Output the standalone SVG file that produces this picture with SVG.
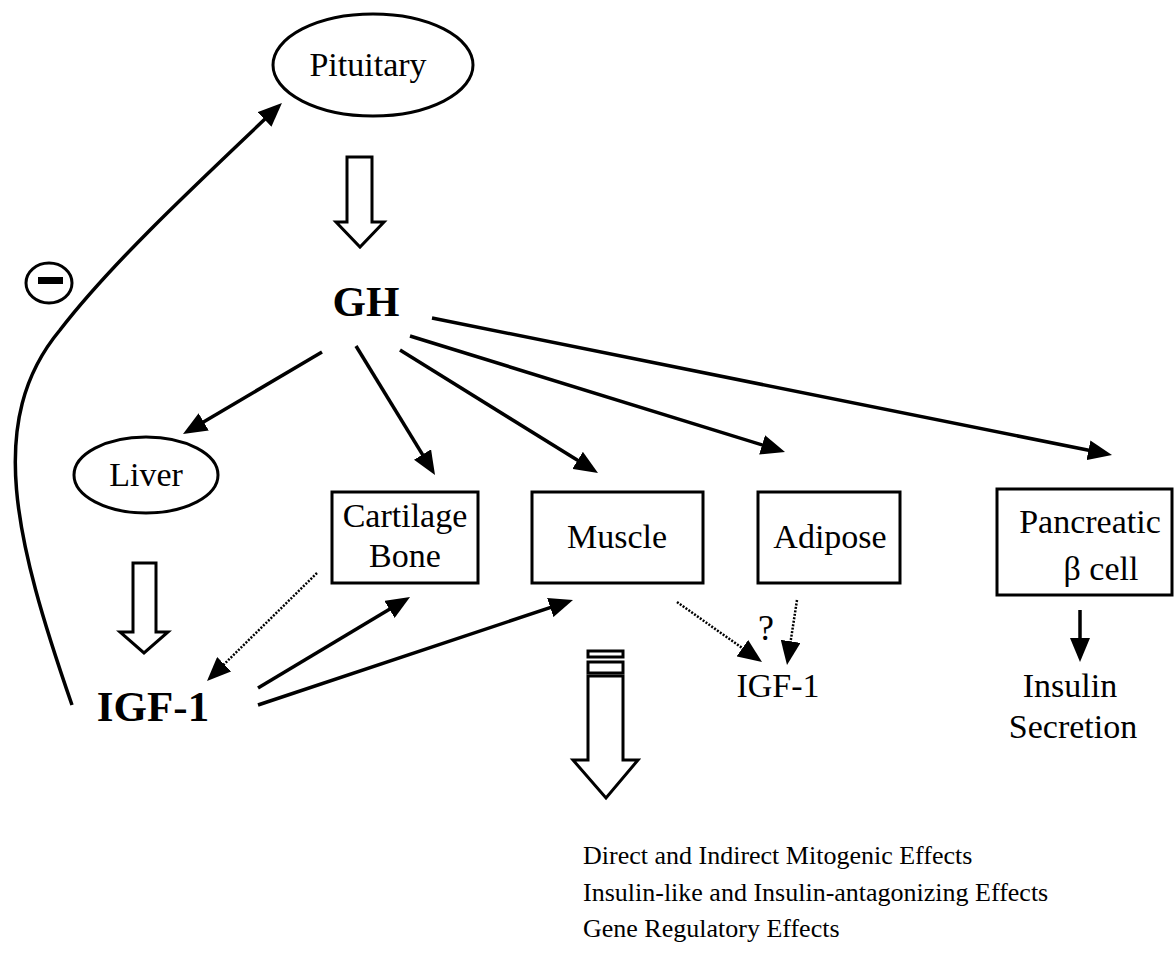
<svg xmlns="http://www.w3.org/2000/svg" width="1175" height="973" viewBox="0 0 1175 973">
<style>
.lbl{font-family:"Liberation Serif","Times New Roman",serif;font-size:34px;fill:#000;text-anchor:middle}
.big{font-family:"Liberation Serif","Times New Roman",serif;font-size:43px;font-weight:bold;fill:#000;text-anchor:middle}
.eff{font-family:"Liberation Serif","Times New Roman",serif;font-size:26px;fill:#000}
.shape{fill:#fff;stroke:#000;stroke-width:3}
.hollow{fill:#fff;stroke:#000;stroke-width:3;stroke-linejoin:miter}
.arr{fill:none;stroke:#000;stroke-width:3.5;marker-end:url(#ah)}
.dot{fill:none;stroke:#000;stroke-width:2.5;stroke-dasharray:2 1.5;marker-end:url(#ah)}
</style>
<defs>
<marker id="ah" viewBox="0 0 12 10" refX="9" refY="5" markerWidth="24" markerHeight="20" markerUnits="userSpaceOnUse" orient="auto">
<path d="M0,0 L12,5 L0,10 z" fill="#000"/>
</marker>
</defs>
<rect width="1175" height="973" fill="#fff"/>

<g id="pituitary">
<ellipse class="shape" cx="373" cy="65" rx="100" ry="51"/>
<text class="lbl" x="368" y="76">Pituitary</text>
</g>
<g id="gh"><text class="big" x="366" y="316">GH</text></g>
<g id="minus">
<ellipse cx="49" cy="283" rx="23" ry="20" fill="none" stroke="#000" stroke-width="3"/>
<rect x="38" y="277" width="25" height="7" fill="#000"/>
</g>
<g id="liver">
<ellipse class="shape" cx="146" cy="475" rx="72" ry="38"/>
<text class="lbl" x="146" y="486">Liver</text>
</g>
<g id="cartilage">
<rect class="shape" x="332" y="492" width="146" height="91"/>
<text class="lbl" x="405" y="527">Cartilage</text>
<text class="lbl" x="405" y="567">Bone</text>
</g>
<g id="muscle">
<rect class="shape" x="532" y="492" width="171" height="91"/>
<text class="lbl" x="617" y="548">Muscle</text>
</g>
<g id="adipose">
<rect class="shape" x="758" y="492" width="142" height="91"/>
<text class="lbl" x="830" y="548">Adipose</text>
</g>
<g id="pancreas">
<rect class="shape" x="997" y="489" width="175" height="106"/>
<text class="lbl" x="1090" y="533">Pancreatic</text>
<text class="lbl" x="1101" y="580">β cell</text>
</g>
<g id="igf1-main"><text class="big" x="153" y="721">IGF-1</text></g>
<g id="igf1-local"><text class="lbl" x="778" y="697">IGF-1</text></g>
<g id="question"><text class="lbl" x="766" y="640" style="font-size:36px">?</text></g>
<g id="insulin">
<text class="lbl" x="1070" y="697">Insulin</text>
<text class="lbl" x="1073" y="738">Secretion</text>
</g>
<g id="effects">
<text class="eff" x="583" y="864">Direct and Indirect Mitogenic Effects</text>
<text class="eff" x="583" y="901">Insulin-like and Insulin-antagonizing Effects</text>
<text class="eff" x="583" y="937">Gene Regulatory Effects</text>
</g>

<g id="connectors">
<polygon class="hollow" points="347,157 372,157 372,222 384,222 360,247 336,222 347,222"/>
<polygon class="hollow" points="133,563 156,563 156,632 168,632 144,653 120,632 133,632"/>
<rect class="hollow" x="588" y="651" width="35" height="6"/>
<rect class="hollow" x="588" y="662" width="35" height="11"/>
<polygon class="hollow" points="588,676 623,676 623,760 638,760 606,798 573,760 588,760"/>
<path class="arr" d="M72,705 C15,540 -15,420 60,330 C110,265 190,190 277.6,107.1"/>
<line class="arr" x1="322" y1="352" x2="188.2" y2="431"/>
<line class="arr" x1="356" y1="346" x2="431.9" y2="469.9"/>
<line class="arr" x1="400" y1="350" x2="592.9" y2="469.8"/>
<line class="arr" x1="410" y1="336" x2="779.3" y2="450.2"/>
<line class="arr" x1="432" y1="318" x2="1106.1" y2="453.8"/>
<line class="arr" x1="258" y1="688" x2="404.9" y2="600.1"/>
<line class="arr" x1="258" y1="705" x2="567.3" y2="601.9"/>
<line class="dot" x1="317" y1="573" x2="211.3" y2="676.8"/>
<line class="dot" x1="677" y1="602" x2="757.1" y2="658.5"/>
<line class="dot" x1="797" y1="600" x2="787.9" y2="659.1"/>
<line class="arr" x1="1080" y1="610" x2="1080" y2="656"/>
</g>
</svg>
